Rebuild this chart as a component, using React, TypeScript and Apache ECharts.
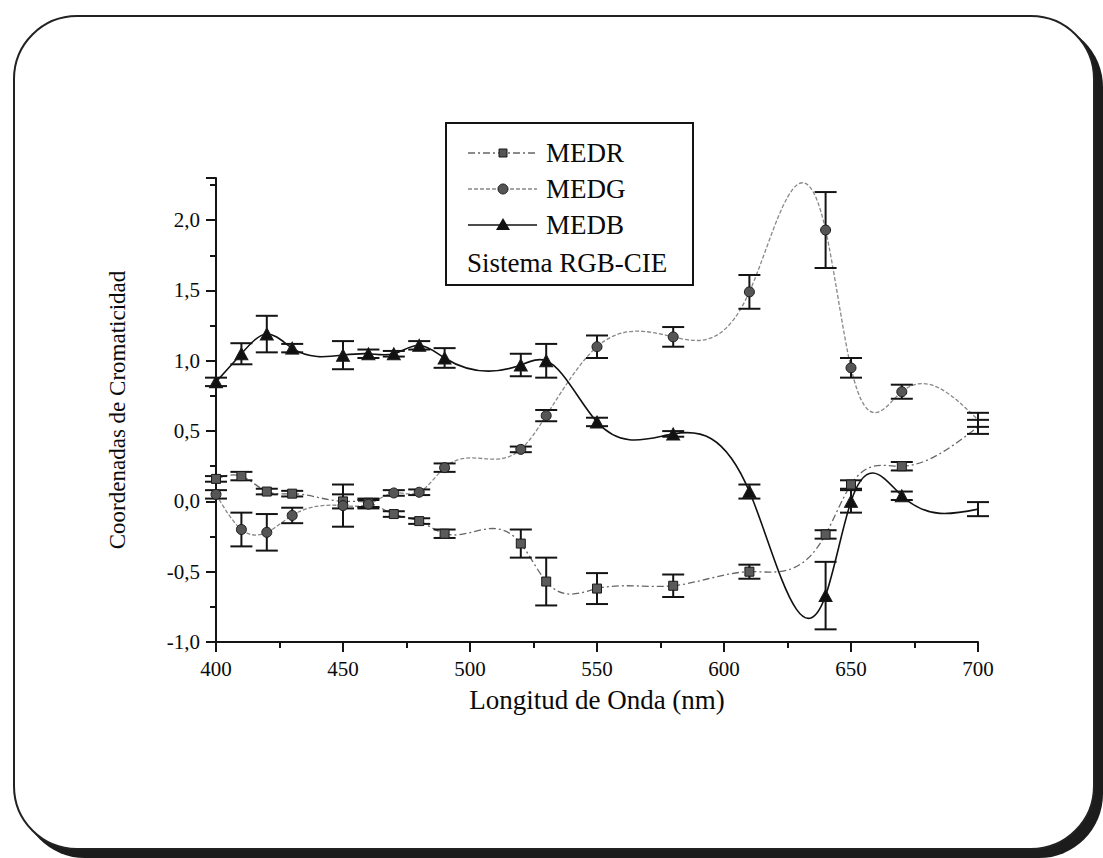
import React, { useEffect, useRef } from "react";
import * as echarts from "echarts";

// ---- data ----
const wavelengths = [400, 410, 420, 430, 450, 460, 470, 480, 490, 520, 530, 550, 580, 610, 640, 650, 670, 700];
const medR = [0.16, 0.18, 0.07, 0.055, 0.0, -0.01, -0.09, -0.14, -0.23, -0.3, -0.57, -0.62, -0.6, -0.5, -0.235, 0.12, 0.25, 0.53];
const medRErr = [0.02, 0.03, 0.02, 0.02, 0.05, 0.03, 0.02, 0.02, 0.03, 0.1, 0.17, 0.11, 0.08, 0.05, 0.03, 0.03, 0.03, 0.05];
const medG = [0.05, -0.2, -0.22, -0.1, -0.03, -0.02, 0.06, 0.065, 0.24, 0.37, 0.61, 1.1, 1.17, 1.49, 1.93, 0.95, 0.78, 0.58];
const medGErr = [0.03, 0.12, 0.13, 0.055, 0.15, 0.03, 0.02, 0.02, 0.03, 0.02, 0.04, 0.08, 0.07, 0.12, 0.27, 0.07, 0.05, 0.05];
const medB = [0.85, 1.05, 1.19, 1.09, 1.04, 1.05, 1.05, 1.11, 1.02, 0.97, 1.0, 0.565, 0.48, 0.07, -0.67, 0.0, 0.04, -0.055];
const medBErr = [0.03, 0.075, 0.13, 0.03, 0.1, 0.03, 0.02, 0.03, 0.07, 0.08, 0.12, 0.03, 0.02, 0.05, 0.24, 0.08, 0.03, 0.05];
const unmarkedWavelengths = [700];
const seriesNames = ["MEDR", "MEDG", "MEDB"];
const legendNote = "Sistema RGB-CIE";
const xTitle = "Longitud de Onda (nm)";
const yTitle = "Coordenadas de Cromaticidad";

const FONT = "Liberation Serif";
const TEXT = "#0a0a0a";

// natural cubic spline slopes (used only to draw the connecting curve)
function splineSlopes(xs: number[], ys: number[]): number[] {
  const n = xs.length;
  const h: number[] = [];
  for (let i = 0; i < n - 1; i++) h[i] = xs[i + 1] - xs[i];
  const M = new Array(n).fill(0);
  if (n > 2) {
    const a: number[] = [], b: number[] = [], c: number[] = [], d: number[] = [];
    for (let i = 1; i < n - 1; i++) {
      a.push(h[i - 1]);
      b.push(2 * (h[i - 1] + h[i]));
      c.push(h[i]);
      d.push(6 * ((ys[i + 1] - ys[i]) / h[i] - (ys[i] - ys[i - 1]) / h[i - 1]));
    }
    const m = b.length;
    const cp = new Array(m), dp = new Array(m);
    cp[0] = c[0] / b[0];
    dp[0] = d[0] / b[0];
    for (let i = 1; i < m; i++) {
      const den = b[i] - a[i] * cp[i - 1];
      cp[i] = c[i] / den;
      dp[i] = (d[i] - a[i] * dp[i - 1]) / den;
    }
    const sol = new Array(m);
    sol[m - 1] = dp[m - 1];
    for (let i = m - 2; i >= 0; i--) sol[i] = dp[i] - cp[i] * sol[i + 1];
    for (let i = 0; i < m; i++) M[i + 1] = sol[i];
  }
  const s = new Array(n);
  for (let i = 0; i < n - 1; i++) s[i] = (ys[i + 1] - ys[i]) / h[i] - (h[i] * (2 * M[i] + M[i + 1])) / 6;
  s[n - 1] = (ys[n - 1] - ys[n - 2]) / h[n - 2] + (h[n - 2] * (M[n - 2] + 2 * M[n - 1])) / 6;
  return s;
}

function splineSeries(ys: number[], stroke: string, width: number, dash: number[] | null) {
  const slopes = splineSlopes(wavelengths, ys);
  const n = wavelengths.length;
  return {
    type: "custom",
    xAxisIndex: 0,
    yAxisIndex: 0,
    silent: true,
    clip: false,
    z: 2,
    data: wavelengths.map((w, i) => [w, ys[i]]),
    encode: { x: 0, y: 1 },
    renderItem: (params: any, api: any) => {
      const i = params.dataIndex;
      if (i >= n - 1) return null;
      const x0 = wavelengths[i], x1 = wavelengths[i + 1];
      const y0 = ys[i], y1 = ys[i + 1];
      const hh = (x1 - x0) / 3;
      const p0 = api.coord([x0, y0]);
      const c1 = api.coord([x0 + hh, y0 + slopes[i] * hh]);
      const c2 = api.coord([x1 - hh, y1 - slopes[i + 1] * hh]);
      const p1 = api.coord([x1, y1]);
      return {
        type: "bezierCurve",
        shape: { x1: p0[0], y1: p0[1], x2: p1[0], y2: p1[1], cpx1: c1[0], cpy1: c1[1], cpx2: c2[0], cpy2: c2[1] },
        style: { stroke, lineWidth: width, lineDash: dash || undefined, fill: "none" },
      };
    },
  };
}

function errorSeries(ys: number[], errs: number[]) {
  return {
    type: "custom",
    xAxisIndex: 0,
    yAxisIndex: 0,
    silent: true,
    clip: false,
    z: 3,
    data: wavelengths.map((w, i) => [w, ys[i], errs[i]]),
    encode: { x: 0, y: 1 },
    renderItem: (params: any, api: any) => {
      const x = api.value(0), y = api.value(1), e = api.value(2);
      const top = api.coord([x, y + e]);
      const bot = api.coord([x, y - e]);
      const cap = 11;
      const st = { stroke: "#141414", lineWidth: 2 };
      return {
        type: "group",
        children: [
          { type: "line", shape: { x1: top[0], y1: top[1], x2: bot[0], y2: bot[1] }, style: st },
          { type: "line", shape: { x1: top[0] - cap, y1: top[1], x2: top[0] + cap, y2: top[1] }, style: st },
          { type: "line", shape: { x1: bot[0] - cap, y1: bot[1], x2: bot[0] + cap, y2: bot[1] }, style: st },
        ],
      };
    },
  };
}

function markerSeries(name: string, ys: number[], symbol: string, size: any, color: string) {
  return {
    type: "scatter",
    name,
    xAxisIndex: 0,
    yAxisIndex: 0,
    symbol,
    symbolSize: size,
    z: 4,
    itemStyle: { color, borderColor: "#1a1a1a", borderWidth: 1, opacity: 1 },
    data: wavelengths
      .map((w, i) => [w, ys[i]])
      .filter((p) => !unmarkedWavelengths.includes(p[0] as number)),
  };
}

const fmtY = (v: number) => {
  const r = Math.round(v * 2);
  if (Math.abs(v * 2 - r) > 1e-6) return "";
  return (r / 2).toFixed(1).replace(".", ",");
};

export default function App() {
  const ref = useRef<HTMLDivElement>(null);
  useEffect(() => {
    if (!ref.current) return;
    const chart = echarts.init(ref.current, null, { renderer: "svg" });
    const axisColor = "#141414";
    const legendRows = [153, 189, 225];
    const legendStyles = [
      { stroke: "#666", dash: [7, 3, 2, 3] },
      { stroke: "#888", dash: [4, 2] },
      { stroke: "#111", dash: null as any },
    ];
    const graphic: any[] = [
      { type: "rect", shape: { x: 446, y: 123, width: 247, height: 162 }, style: { fill: "none", stroke: "#141414", lineWidth: 2 } },
    ];
    legendRows.forEach((yy, k) => {
      graphic.push({
        type: "line",
        shape: { x1: 468, y1: yy, x2: 537, y2: yy },
        style: { stroke: legendStyles[k].stroke, lineWidth: 1.3, lineDash: legendStyles[k].dash || undefined },
      });
      if (k === 0) graphic.push({ type: "rect", shape: { x: 499, y: yy - 4, width: 8, height: 8 }, style: { fill: "#555", stroke: "#1a1a1a", lineWidth: 1 } });
      if (k === 1) graphic.push({ type: "circle", shape: { cx: 503, cy: yy, r: 5 }, style: { fill: "#555", stroke: "#1a1a1a", lineWidth: 1 } });
      if (k === 2) graphic.push({ type: "polygon", shape: { points: [[503, yy - 7], [510, yy + 5], [496, yy + 5]] }, style: { fill: "#111" } });
      graphic.push({
        type: "text",
        x: 546,
        y: yy,
        style: { text: seriesNames[k], fontFamily: FONT, fontSize: 27, fill: TEXT, verticalAlign: "middle", align: "left" },
      });
    });
    graphic.push({
      type: "text",
      x: 467,
      y: 263,
      style: { text: legendNote, fontFamily: FONT, fontSize: 27, fill: TEXT, verticalAlign: "middle", align: "left" },
    });

    chart.setOption({
      animation: false,
      backgroundColor: "transparent",
      textStyle: { fontFamily: FONT },
      grid: { left: 216, right: 125, top: 178, bottom: 216 },
      xAxis: {
        type: "value",
        min: 400,
        max: 700,
        interval: 50,
        name: xTitle,
        nameLocation: "middle",
        nameGap: 44,
        nameTextStyle: { fontFamily: FONT, fontSize: 27, color: TEXT },
        axisLine: { show: true, onZero: false, lineStyle: { color: axisColor, width: 2 } },
        axisTick: { show: true, length: 10, lineStyle: { color: axisColor, width: 2 } },
        minorTick: { show: true, splitNumber: 2, length: 6, lineStyle: { color: axisColor, width: 2 } },
        axisLabel: { fontFamily: FONT, fontSize: 21, color: TEXT, margin: 16 },
        splitLine: { show: false },
      },
      yAxis: {
        type: "value",
        min: -1,
        max: 2.3,
        interval: 0.5,
        name: yTitle,
        nameLocation: "middle",
        nameGap: 87,
        nameTextStyle: { fontFamily: FONT, fontSize: 23, color: TEXT },
        axisLine: { show: true, onZero: false, lineStyle: { color: axisColor, width: 2 } },
        axisTick: { show: true, length: 10, lineStyle: { color: axisColor, width: 2 } },
        minorTick: { show: true, splitNumber: 2, length: 6, lineStyle: { color: axisColor, width: 2 } },
        axisLabel: { fontFamily: FONT, fontSize: 21, color: TEXT, margin: 16, formatter: fmtY },
        splitLine: { show: false },
      },
      graphic,
      series: [
        splineSeries(medR, "#666", 1.3, [7, 3, 2, 3]),
        splineSeries(medG, "#888", 1.3, [4, 2]),
        splineSeries(medB, "#111", 1.6, null),
        errorSeries(medR, medRErr),
        errorSeries(medG, medGErr),
        errorSeries(medB, medBErr),
        markerSeries(seriesNames[0], medR, "rect", 9, "#5a5a5a"),
        markerSeries(seriesNames[1], medG, "circle", 10, "#555"),
        markerSeries(seriesNames[2], medB, "triangle", [13, 12], "#111"),
      ],
    });
    return () => chart.dispose();
  }, []);

  return (
    <div style={{ position: "fixed", left: 0, top: 0, width: 1103, height: 858, background: "#fff" }}>
      <div
        style={{
          position: "absolute",
          left: 13,
          top: 15,
          width: 1082,
          height: 835,
          boxSizing: "border-box",
          border: "2px solid #222",
          borderRadius: 64,
          boxShadow: "8px 8px 0 0 #1c1c1c",
          background: "#fff",
        }}
      />
      <div ref={ref} style={{ position: "absolute", left: 0, top: 0, width: 1103, height: 858 }} />
    </div>
  );
}
